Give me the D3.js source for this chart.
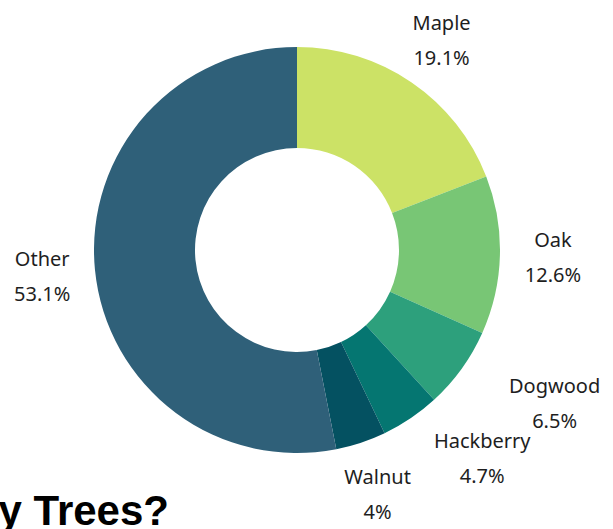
<!DOCTYPE html>
<html>
<head>
<meta charset="utf-8">
<script src="https://cdn.jsdelivr.net/npm/d3@7/dist/d3.min.js"></script>
<style>
 body { margin: 0; background: #fff; }
 svg { display: block; }
 .lbl { font-family: "Noto Sans", "Open Sans", sans-serif; font-size: 20px; fill: #1e1e1e; }
 .ttl { font-family: "Liberation Sans", Arial, sans-serif; font-weight: bold; font-size: 42px; fill: #000; }
</style>
</head>
<body>
<div id="chart"></div>
<script>
 // species share of city trees
 var species = ["Maple", "Oak", "Dogwood", "Hackberry", "Walnut", "Other"];
 var shares  = [19.1, 12.6, 6.5, 4.7, 4, 53.1];
 var colors  = ["#cce266", "#78c675", "#2da07c", "#057671", "#045161", "#2f6079"];

 var W = 613, H = 529;
 var cx = 297, cy = 250, R = 203, r0 = 102, rl = 256;
 // small nudges so the bottom-right labels do not collide
 var nudge = { Dogwood: [50, 2], Hackberry: [42, -5] };

 var svg = d3.select("#chart").append("svg").attr("width", W).attr("height", H);

 // titles (cropped at the edges in the original screenshot)
 svg.append("text").attr("class", "ttl").attr("x", 146).attr("y", -9).text("Top Trees");
 svg.append("text").attr("class", "ttl").attr("x", 169).attr("y", 525)
    .attr("text-anchor", "end").text("Which Are the Most Common City Trees?");

 var data = species.map(function(s, i){ return { name: s, value: shares[i], color: colors[i] }; });

 var pie = d3.pie().sort(null).value(function(d){ return d.value; });
 var arc = d3.arc().innerRadius(r0).outerRadius(R);
 var arcs = pie(data);

 var g = svg.append("g").attr("transform", "translate(" + cx + "," + cy + ")");

 g.selectAll("path").data(arcs).enter().append("path")
  .attr("d", arc)
  .attr("fill", function(d){ return d.data.color; });

 var lab = g.selectAll("text").data(arcs).enter().append("text")
  .attr("class", "lbl")
  .attr("text-anchor", "middle")
  .attr("transform", function(d){
      var a = (d.startAngle + d.endAngle) / 2;
      var n = nudge[d.data.name] || [0, 0];
      var x = rl * Math.sin(a) + n[0], y = -rl * Math.cos(a) + n[1];
      return "translate(" + x + "," + y + ")";
  });
 lab.append("tspan").attr("x", 0).attr("y", -9).text(function(d){ return d.data.name; });
 lab.append("tspan").attr("x", 0).attr("y", 26).text(function(d){ return d.data.value + "%"; });
</script>
</body>
</html>
